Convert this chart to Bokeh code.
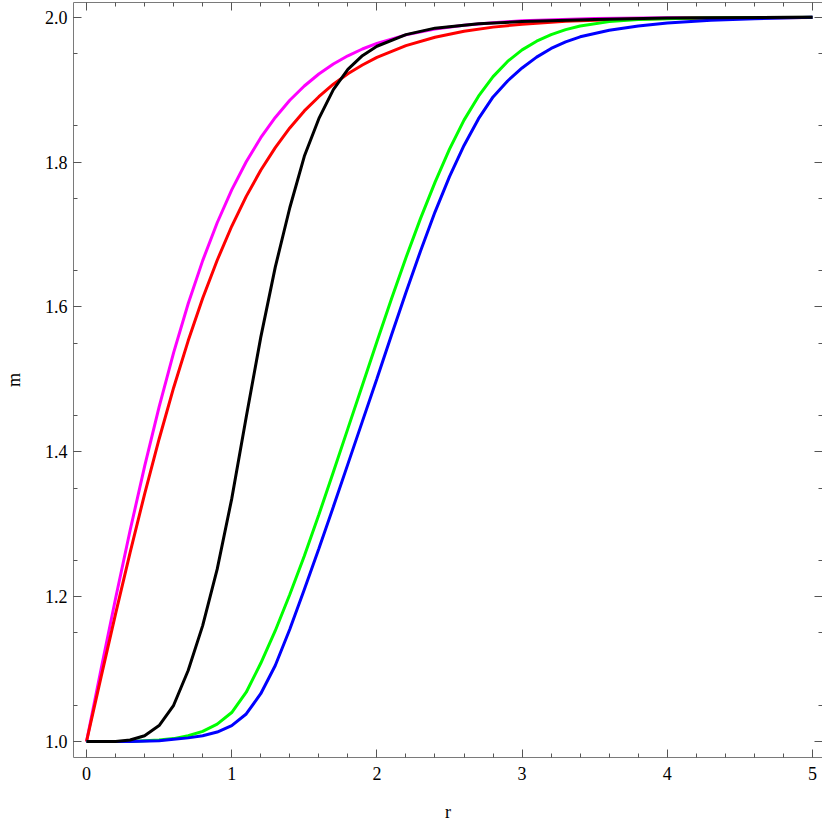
from bokeh.plotting import figure
from bokeh.models import Range1d, LinearAxis, FixedTicker
from bokeh.embed import file_html
from bokeh.resources import INLINE

# ---- data ----
r_magenta = [0.0, 0.1, 0.2, 0.3, 0.4, 0.5, 0.6, 0.7, 0.8, 0.9, 1.0, 1.1, 1.2, 1.3, 1.4, 1.5, 1.6, 1.7, 1.8, 1.9, 2.0, 2.2, 2.4, 2.6, 2.8, 3.0, 3.5, 4.0, 5.0]
m_magenta = [1.0, 1.0997, 1.1974, 1.2913, 1.3799, 1.4621, 1.5370, 1.6044, 1.6640, 1.7163, 1.7616, 1.8005, 1.8337, 1.8617, 1.8854, 1.9051, 1.9217, 1.9354, 1.9468, 1.9562, 1.9640, 1.9757, 1.9837, 1.9890, 1.9926, 1.9951, 1.9982, 1.9993, 1.9999]

r_red = [0.0, 0.1, 0.2, 0.3, 0.4, 0.5, 0.6, 0.7, 0.8, 0.9, 1.0, 1.1, 1.2, 1.3, 1.4, 1.5, 1.6, 1.7, 1.8, 1.9, 2.0, 2.2, 2.4, 2.6, 2.8, 3.0, 3.3, 3.6, 4.0, 4.5, 5.0]
m_red = [1.0, 1.0888, 1.1761, 1.2608, 1.3417, 1.4177, 1.4885, 1.5532, 1.6120, 1.6645, 1.7114, 1.7527, 1.7887, 1.8200, 1.8472, 1.8707, 1.8903, 1.9076, 1.9221, 1.9341, 1.9446, 1.9609, 1.9724, 1.9807, 1.9864, 1.9905, 1.9944, 1.9967, 1.9984, 1.9993, 1.9996]

r_black = [0.0, 0.2, 0.3, 0.4, 0.5, 0.6, 0.7, 0.8, 0.9, 1.0, 1.1, 1.2, 1.3, 1.4, 1.5, 1.6, 1.7, 1.8, 1.9, 2.0, 2.2, 2.4, 2.7, 3.0, 3.5, 4.0, 5.0]
m_black = [1.0, 1.0, 1.002, 1.008, 1.022, 1.050, 1.098, 1.160, 1.238, 1.335, 1.448, 1.558, 1.655, 1.737, 1.808, 1.860, 1.900, 1.928, 1.947, 1.960, 1.976, 1.985, 1.991, 1.994, 1.997, 1.999, 2.0]

r_green = [0.0, 0.3, 0.5, 0.6, 0.7, 0.8, 0.9, 1.0, 1.1, 1.2, 1.3, 1.4, 1.5, 1.6, 1.7, 1.8, 1.9, 2.0, 2.1, 2.2, 2.3, 2.4, 2.5, 2.6, 2.7, 2.8, 2.9, 3.0, 3.1, 3.2, 3.3, 3.4, 3.6, 3.8, 4.2, 5.0]
m_green = [1.0, 1.0, 1.002, 1.004, 1.008, 1.014, 1.024, 1.040, 1.068, 1.108, 1.153, 1.203, 1.256, 1.313, 1.372, 1.432, 1.492, 1.552, 1.611, 1.668, 1.722, 1.772, 1.818, 1.858, 1.891, 1.918, 1.939, 1.955, 1.967, 1.976, 1.983, 1.988, 1.994, 1.997, 1.999, 2.0]

r_blue = [0.0, 0.3, 0.5, 0.6, 0.7, 0.8, 0.9, 1.0, 1.1, 1.2, 1.3, 1.4, 1.5, 1.6, 1.7, 1.8, 1.9, 2.0, 2.1, 2.2, 2.3, 2.4, 2.5, 2.6, 2.7, 2.8, 2.9, 3.0, 3.1, 3.2, 3.3, 3.4, 3.6, 3.8, 4.0, 4.3, 4.6, 5.0]
m_blue = [1.0, 1.0, 1.001, 1.003, 1.005, 1.008, 1.013, 1.022, 1.038, 1.066, 1.105, 1.155, 1.210, 1.266, 1.324, 1.383, 1.442, 1.501, 1.561, 1.620, 1.677, 1.731, 1.780, 1.823, 1.860, 1.890, 1.912, 1.930, 1.945, 1.957, 1.966, 1.973, 1.982, 1.988, 1.992, 1.996, 1.998, 2.0]

x_ticks = [0, 1, 2, 3, 4, 5]
x_labels = ["0", "1", "2", "3", "4", "5"]
y_ticks = [1.0, 1.2, 1.4, 1.6, 1.8, 2.0]
y_labels = ["1.0", "1.2", "1.4", "1.6", "1.8", "2.0"]

p = figure(width=822, height=824, output_backend="svg", toolbar_location=None,
           x_range=Range1d(-0.0897, 5.069), y_range=Range1d(0.9779, 2.0204),
           min_border_left=68, min_border_right=0, min_border_top=2, min_border_bottom=0,
           x_axis_label="r", y_axis_label="m")
p.grid.visible = False
p.outline_line_color = None
p.background_fill_color = "white"
p.border_fill_color = "white"

x_minor = [i * 0.2 for i in range(-1, 27) if i % 5 != 0]
y_minor = [0.95 + i * 0.05 for i in range(0, 23) if (i + 1) % 4 != 0]

font = "Liberation Serif"
axcol = "#7a7a7a"

def style(ax, labels):
    ax.axis_line_color = axcol
    ax.axis_line_width = 1
    ax.major_tick_line_color = "#555555"
    ax.minor_tick_line_color = "#555555"
    ax.major_tick_in = 8
    ax.major_tick_out = 0
    ax.minor_tick_in = 4
    ax.minor_tick_out = 0
    ax.major_label_text_font = font
    ax.major_label_text_font_size = "18px"
    ax.major_label_text_color = "black" if labels else None
    ax.axis_label_text_font = font
    ax.axis_label_text_font_size = "18px"
    ax.axis_label_text_font_style = "normal"
    ax.axis_label_text_color = "black"

xa = p.xaxis[0]
xa.ticker = FixedTicker(ticks=x_ticks, minor_ticks=x_minor)
xa.major_label_overrides = {t: l for t, l in zip(x_ticks, x_labels)}
style(xa, True)
xa.major_label_standoff = 9
xa.axis_label_standoff = 19

ya = p.yaxis[0]
ya.ticker = FixedTicker(ticks=y_ticks, minor_ticks=y_minor)
ya.major_label_overrides = {t: l for t, l in zip(y_ticks, y_labels)}
style(ya, True)
ya.major_label_standoff = 6
ya.axis_label_standoff = 18

top = LinearAxis(ticker=FixedTicker(ticks=x_ticks, minor_ticks=x_minor))
style(top, False)
top.major_label_text_font_size = "0px"
top.major_label_overrides = {t: "" for t in x_ticks}
top.major_label_standoff = 0
top.axis_label_standoff = 0
p.add_layout(top, "above")

right = LinearAxis(ticker=FixedTicker(ticks=y_ticks, minor_ticks=y_minor))
style(right, False)
right.major_label_text_font_size = "0px"
right.major_label_overrides = {t: "" for t in y_ticks}
right.major_label_standoff = 0
right.axis_label_standoff = 0
p.add_layout(right, "right")

lw = 3
p.line(r_magenta, m_magenta, line_color="#ff00ff", line_width=lw)
p.line(r_red, m_red, line_color="#ff0000", line_width=lw)
p.line(r_green, m_green, line_color="#00ff00", line_width=lw)
p.line(r_blue, m_blue, line_color="#0000ff", line_width=lw)
p.line(r_black, m_black, line_color="#000000", line_width=lw)

open("out.html", "w").write(file_html(p, INLINE))
